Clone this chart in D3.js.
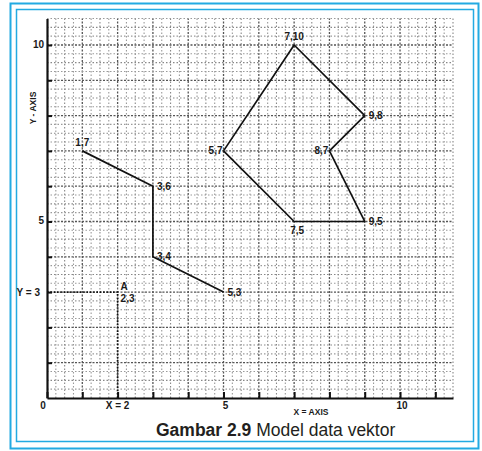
<!DOCTYPE html>
<html><head><meta charset="utf-8">
<script src="https://cdn.jsdelivr.net/npm/d3@7"></script>
<style>html,body{margin:0;padding:0;background:#fff;}svg{display:block;}</style>
</head><body>
<svg id="c" width="482" height="451"></svg>
<script>
// ---- data ----
const polygonPts = [[5,7],[7,10],[9,8],[8,7],[9,5],[7,5],[5,7]];
const polygonLabels = [
  {p:[7,10], t:"7,10", pos:"top"},
  {p:[9,8], t:"9,8", pos:"right"},
  {p:[5,7], t:"5,7", pos:"left"},
  {p:[8,7], t:"8,7", pos:"left"},
  {p:[9,5], t:"9,5", pos:"right"},
  {p:[7,5], t:"7,5", pos:"bottom"}
];
const linePts = [[1,7],[3,6],[3,4],[5,3]];
const lineLabels = [
  {p:[1,7], t:"1,7", pos:"top"},
  {p:[3,6], t:"3,6", pos:"right"},
  {p:[3,4], t:"3,4", pos:"right"},
  {p:[5,3], t:"5,3", pos:"right"}
];
const pointA = [2,3];
const xTickValues = [0,1,2,3,4,5,6,7,8,9,10,11];
const yTickValues = [1,2,3,4,5,6,7,8,9,10];
const xTickLabels = [{v:0,t:"0"},{v:2,t:"X = 2"},{v:5,t:"5"},{v:10,t:"10"}];
const yTickLabels = [{v:5,t:"5"},{v:10,t:"10"}];
const xTitle = "X = AXIS", yTitle = "Y - AXIS";
const captionBold = "Gambar 2.9", captionRest = " Model data vektor";

// ---- drawing ----
const svg = d3.select("#c");
const blue = "#23aae2";
svg.append("rect").attr("x",10.5).attr("y",3.5).attr("width",468).attr("height",445)
  .attr("fill","none").attr("stroke",blue).attr("stroke-width",2);
svg.append("rect").attr("x",16.5).attr("y",9.5).attr("width",457).attr("height",432)
  .attr("fill","none").attr("stroke",blue).attr("stroke-width",1.5);

const x = d3.scaleLinear().domain([0,11.5]).range([47,453]);
const y = d3.scaleLinear().domain([0,10.75]).range([398,18.5]);

// grid (graph paper)
const g = svg.append("g");
const xs = d3.range(0.25, 11.5+0.001, 0.25);
const ys = d3.range(0.25, 10.75+0.001, 0.25);
function gridStyle(sel, v){
  const major = Math.abs(v-Math.round(v))<1e-6;
  const half = Math.abs(v*2-Math.round(v*2))<1e-6;
  sel.attr("stroke", major? "#555": (half? "#888":"#9a9a9a"))
     .attr("stroke-width", major?1.3:1.1)
     .attr("stroke-dasharray", major? "2,1.5":"1.5,2");
}
xs.forEach(v=>{
  gridStyle(g.append("line").attr("x1",x(v)).attr("x2",x(v)).attr("y1",y(0)).attr("y2",y(10.75)), v);
});
ys.forEach(v=>{
  gridStyle(g.append("line").attr("y1",y(v)).attr("y2",y(v)).attr("x1",x(0)).attr("x2",x(11.5)), v);
});

// axes
const xAxis = d3.axisBottom(x).tickValues(xTickValues).tickSizeInner(-6).tickSizeOuter(0).tickFormat("");
const yAxis = d3.axisLeft(y).tickValues(yTickValues).tickSizeInner(-5).tickSizeOuter(0).tickFormat("");
const gx = svg.append("g").attr("transform",`translate(0,${y(0)})`).call(xAxis);
const gy = svg.append("g").attr("transform",`translate(${x(0)},0)`).call(yAxis);
[gx,gy].forEach(a=>{
  a.selectAll("path").attr("stroke","#111").attr("stroke-width",2.2);
  a.selectAll("line").attr("stroke","#111").attr("stroke-width",2);
});

const font = "'Liberation Sans', Arial, sans-serif";
function txt(xp, yp, t, anchor, size, weight){
  return svg.append("text").attr("x",xp).attr("y",yp).text(t)
    .attr("text-anchor",anchor||"start").attr("font-family",font)
    .attr("font-size",size||10).attr("font-weight",weight||"bold").attr("fill","#1a1a1a");
}
xTickLabels.forEach(d=>{
  txt(d.v===0? x(d.v)-4 : x(d.v)+ (d.v===5?2:(d.v===10?2:0)), y(0)+11, d.t, "middle", 10);
});
yTickLabels.forEach(d=>{ txt(x(0)-3, y(d.v)+3, d.t, "end", 10); });
txt(311, 415, xTitle, "middle", 8.5);
txt(0,0,yTitle,"middle",8.5).attr("transform","translate(36,108) rotate(-90)");

// dotted guide lines for point A
const line = d3.line().x(d=>x(d[0])).y(d=>y(d[1]));
svg.append("path").attr("d", line([[0,pointA[1]],pointA,[pointA[0],0]]))
  .attr("fill","none").attr("stroke","#111").attr("stroke-width",1.8).attr("stroke-dasharray","1.5,1.8");
txt(x(0)-7, y(pointA[1])+3.5, "Y = 3", "end", 10);
txt(x(pointA[0])+3, y(pointA[1])-2, "A", "start", 10);
txt(x(pointA[0])+3, y(pointA[1])+10, pointA.join(","), "start", 10);

// vector features
svg.append("path").attr("d", line(polygonPts)).attr("fill","none")
  .attr("stroke","#111").attr("stroke-width",1.7).attr("stroke-linejoin","round");
svg.append("path").attr("d", line(linePts)).attr("fill","none")
  .attr("stroke","#111").attr("stroke-width",1.7).attr("stroke-linejoin","round");

function placeLabel(d){
  const px = x(d.p[0]), py = y(d.p[1]);
  if(d.pos==="top") txt(px, py-5, d.t, "middle", 10);
  else if(d.pos==="bottom") txt(px+3, py+13, d.t, "middle", 10);
  else if(d.pos==="right") txt(px+4, py+3.5, d.t, "start", 10);
  else txt(px-1, py+3.5, d.t, "end", 10);
}
polygonLabels.forEach(placeLabel);
lineLabels.forEach(placeLabel);

// caption
const cap = svg.append("text").attr("x",156).attr("y",436).attr("font-family",font)
  .attr("font-size",17.5).attr("fill","#231f20");
cap.append("tspan").attr("font-weight","bold").text(captionBold);
cap.append("tspan").text(captionRest);
</script>
</body></html>
